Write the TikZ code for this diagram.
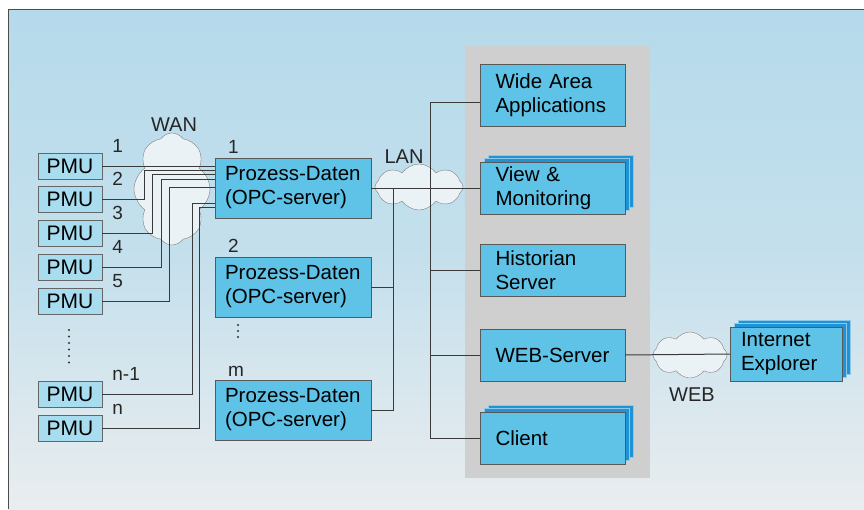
\documentclass[tikz,border=0pt]{standalone}
\usepackage{fontspec}
\setmainfont{Liberation Sans}
\usetikzlibrary{shapes.symbols, shadows}
\definecolor{bgtop}{HTML}{B5DAEB}
\definecolor{bgbot}{HTML}{E9EDEF}
\definecolor{panelgray}{HTML}{CFCFCF}
\definecolor{boxblue}{HTML}{5EC3E6}
\definecolor{pmublue}{HTML}{A8DCEF}
\definecolor{stackblue}{HTML}{1F93D5}
\definecolor{cloudfill}{HTML}{EAF2F6}
\definecolor{linegray}{HTML}{3A3A3A}

\begin{document}
\begin{tikzpicture}[x=1pt, y=-1pt,
    pmu/.style={rectangle, draw=gray!80!black, fill=pmublue, minimum width=64pt, minimum height=26pt, inner sep=0pt, font=\fontsize{21}{24}\selectfont},
    opc/.style={rectangle, draw=gray!70!black, fill=boxblue, text width=136pt, inner xsep=10pt, minimum height=60pt, align=left, font=\fontsize{20.5}{24}\selectfont},
    app/.style={rectangle, draw=gray!70!black, fill=boxblue, text width=114pt, inner xsep=15.5pt, minimum height=52pt, align=left, font=\fontsize{20.5}{24}\selectfont},
    stack/.style={double copy shadow={shadow xshift=4pt, shadow yshift=3.5pt, fill=stackblue, draw=stackblue!50!white}},
    net/.style={cloud, cloud puffs=8, cloud puff arc=110, cloud ignores aspect, draw=gray, fill=cloudfill, inner sep=0pt},
    lbl/.style={font=\fontsize{19}{22}\selectfont, inner sep=0pt, text=black!85},
    link/.style={draw=linegray, line width=1pt}]

    \useasboundingbox (0, 0) rectangle (864, 509);
    %Background
    \fill[top color=bgtop, bottom color=bgbot, middle color=bgtop!70!bgbot] (8, 9) rectangle (864, 509);
    \draw[gray!60!black, line width=1pt] (8, 509) -- (8, 9) -- (864, 9);
    \fill[panelgray] (465, 46) rectangle (650, 478);

    %Clouds
    \node[net, minimum width=76pt, minimum height=112pt] at (172, 189) (wan) {};
    \node[net, minimum width=88pt, minimum height=46pt] at (419, 187) (lan) {};
    \node[net, minimum width=74pt, minimum height=46pt] at (690, 355) (web) {};
    \node[lbl, font=\fontsize{20}{22}\selectfont] at (174, 125) (wanlbl) {WAN};
    \node[lbl, font=\fontsize{20}{22}\selectfont] at (404, 157) (lanlbl) {LAN};
    \node[lbl, font=\fontsize{20}{22}\selectfont] at (692, 395) (weblbl) {WEB};

    %PMUs
    \node[pmu] at (70, 166) (p1) {PMU};
    \node[pmu] at (70, 199) (p2) {PMU};
    \node[pmu] at (70, 233) (p3) {PMU};
    \node[pmu] at (70, 267) (p4) {PMU};
    \node[pmu] at (70, 301) (p5) {PMU};
    \node[pmu] at (70, 394) (pn1) {PMU};
    \node[pmu] at (70, 428) (pn) {PMU};
    \node[lbl, anchor=base west] at ([xshift=10pt]p1.north east) {1};
    \node[lbl, anchor=base west] at ([xshift=10pt]p2.north east) {2};
    \node[lbl, anchor=base west] at ([xshift=10pt]p3.north east) {3};
    \node[lbl, anchor=base west] at ([xshift=10pt]p4.north east) {4};
    \node[lbl, anchor=base west] at ([xshift=10pt]p5.north east) {5};
    \node[lbl, anchor=base west] at ([xshift=10pt]pn1.north east) {n-1};
    \node[lbl, anchor=base west] at ([xshift=10pt]pn.north east) {n};
    \foreach \k in {0,...,5}
        \fill[black!80] (69, 330 + 6.5*\k) circle (1.1pt);

    %Servers
    \node[opc] at (293, 188) (s1) {Prozess-Daten\\(OPC-server)};
    \node[opc] at (293, 287) (s2) {Prozess-Daten\\(OPC-server)};
    \node[opc] at (293, 410) (sm) {Prozess-Daten\\(OPC-server)};
    \node[lbl, anchor=base west] at ([xshift=13pt, yshift=4pt]s1.north west) {1};
    \node[lbl, anchor=base west] at ([xshift=13pt, yshift=4pt]s2.north west) {2};
    \node[lbl, anchor=base west] at ([xshift=13pt, yshift=3pt]sm.north west) {m};
    \foreach \k in {0,...,2}
        \fill[black!80] (238, 325 + 6*\k) circle (1.1pt);

    %Applications
    \node[app, minimum height=62pt] at (552.5, 95) (wa) {Wide Area\\Applications};
    \node[app, stack] at (552.5, 188) (view) {View \&\\Monitoring};
    \node[app] at (552.5, 270.5) (hist) {Historian\\Server};
    \node[app] at (552.5, 355) (webs) {WEB-Server};
    \node[app, stack] at (552.5, 438) (cl) {Client};
    \node[app, stack, text width=90pt, inner xsep=11pt, minimum height=54pt] at (786, 354) (ie) {Internet\\Explorer};

    %Lines
    \draw[link] (p1.east) -- (s1.west |- p1.east);
    \draw[link] (p2.east) -| ([xshift=-70pt, yshift=18pt]s1.west) -- ([yshift=18pt]s1.west);
    \draw[link] (p3.east) -| ([xshift=-62pt, yshift=14pt]s1.west) -- ([yshift=14pt]s1.west);
    \draw[link] (p4.east) -| ([xshift=-53pt, yshift=9pt]s1.west) -- ([yshift=9pt]s1.west);
    \draw[link] (p5.east) -| ([xshift=-45pt, yshift=1pt]s1.west) -- ([yshift=1pt]s1.west);
    \draw[link] (pn1.east) -| ([xshift=-22pt, yshift=-15pt]s1.west) -- ([yshift=-15pt]s1.west);
    \draw[link] (pn.east) -| ([xshift=-15pt, yshift=-19pt]s1.west) -- ([yshift=-19pt]s1.west);

    \coordinate (b1) at (393, 188);
    \coordinate (b2) at (430, 188);
    \draw[link] (s1.east) -- (view.west);
    \draw[link] (b1) |- (sm.east);
    \draw[link] (s2.east) -- (s2.east -| b1);
    \draw[link] ([yshift=-7pt]wa.west) -| (b2 |- cl.west) -- (cl.west);
    \draw[link] (hist.west) -- (hist.west -| b2);
    \draw[link] (webs.west) -- (webs.west -| b2);
    \draw[link] (webs.east) -- (ie.west);

\end{tikzpicture}
\end{document}
